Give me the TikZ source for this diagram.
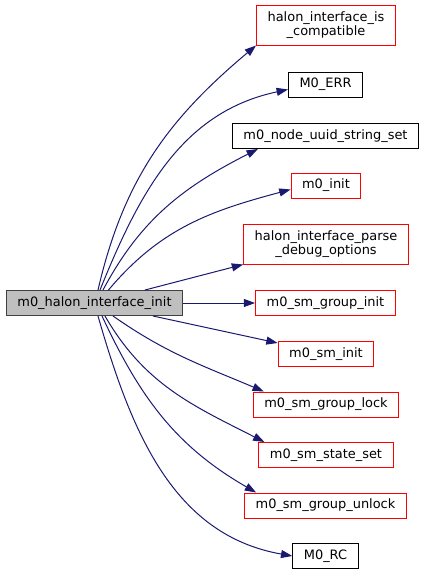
\documentclass[tikz,border=0pt]{standalone}
\usepackage{fontspec}
\setmainfont{DejaVu Sans}
\usetikzlibrary{arrows.meta,calc}
\definecolor{edgeblue}{HTML}{191970}
\definecolor{boxgray}{HTML}{BFBFBF}
\definecolor{boxedge}{HTML}{404040}
\definecolor{linkred}{HTML}{FF0000}

\begin{document}
\begin{tikzpicture}[x=0.75pt,y=-0.75pt,>={Triangle[length=8.5pt,width=6pt]},
  fn/.style={draw=black,line width=0.75pt,inner xsep=8.3pt,inner ysep=0pt,
    minimum height=18.75pt,font=\fontsize{9.7}{11}\selectfont,align=center},
  fnred/.style={fn,draw=linkred},
  fnmain/.style={fn,draw=boxedge,fill=boxgray},
  call/.style={->,edgeblue,line width=0.75pt}]
  \useasboundingbox (0,0) rectangle (425,575);
  % caller
  \node[fnmain] (main) at (94.5,303) {m0\_halon\_interface\_init};
  % callees
  \node[fnred,minimum height=30pt] (compat) at (326,25) {halon\_interface\_is\\\_compatible};
  \node[fn] (err) at (325.5,84.5) {M0\_ERR};
  \node[fn] (uuid) at (325.5,136) {m0\_node\_uuid\_string\_set};
  \node[fnred] (init) at (326,185.5) {m0\_init};
  \node[fnred,minimum height=30pt] (parse) at (326,244) {halon\_interface\_parse\\\_debug\_options};
  \node[fnred] (grpinit) at (325.5,303) {m0\_sm\_group\_init};
  \node[fnred] (sminit) at (326,354) {m0\_sm\_init};
  \node[fnred] (lock) at (326,404.5) {m0\_sm\_group\_lock};
  \node[fnred] (state) at (326,455) {m0\_sm\_state\_set};
  \node[fnred] (unlock) at (325.5,505.5) {m0\_sm\_group\_unlock};
  \node[fn] (rc) at (325.5,556) {M0\_RC};
  % calls
  \draw[call] ($(main.north)+(3.5,0)$) to[out=77,in=220] (compat.south west);
  \draw[call] ($(main.north)+(5.5,0)$) to[out=68,in=192] ($(err.west)+(0,5)$);
  \draw[call] ($(main.north)+(8.5,0)$) to[out=62,in=207] ($(uuid.south west)+(26,0)$);
  \draw[call] ($(main.north)+(14,0)$) to[out=50,in=195] ($(init.west)+(0,4)$);
  \draw[call] ($(main.north)+(50.5,0)$) -- (parse.south west);
  \draw[call] (main.east) -- (grpinit.west);
  \draw[call] ($(main.south)+(58.5,0)$) -- ($(sminit.north west)+(0,2)$);
  \draw[call] ($(main.south)+(18.5,0)$) to[out=-35,in=157] ($(lock.north west)+(11,0)$);
  \draw[call] ($(main.south)+(10.5,0)$) to[out=-60,in=153] ($(state.north west)+(6,0)$);
  \draw[call] ($(main.south)+(7.5,0)$) to[out=-65,in=150] ($(unlock.north west)+(12,0)$);
  \draw[call] ($(main.south)+(3.5,0)$) to[out=-74,in=170] (rc.west);
\end{tikzpicture}
\end{document}
